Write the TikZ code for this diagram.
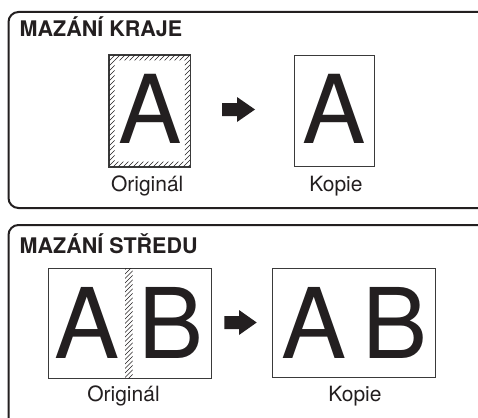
\documentclass[tikz,border=0pt]{standalone}
\usepackage{fontspec}
\setmainfont{TeX Gyre Heros}
\definecolor{ink}{HTML}{231F20}
\definecolor{frame}{HTML}{3A3A3A}
\tikzset{
  panel/.style={draw=ink, line width=2pt, rounded corners=10pt},
  pagebox/.style={draw=frame, line width=0.9pt, inner sep=0pt, fill=white},
  bigA/.style={anchor=base, inner sep=0pt, text=ink, font=\fontsize{95}{95}\selectfont},
  bigB/.style={anchor=base, inner sep=0pt, text=ink, font=\fontsize{97.5}{97.5}\selectfont},
  caption/.style={anchor=base, inner sep=0pt, text=ink, font=\fontsize{21}{24}\selectfont},
  heading/.style={anchor=base west, inner sep=0pt, text=ink, font=\fontsize{21.5}{24}\selectfont\bfseries},
  hatch/.style={draw=ink, line width=0.45pt},
  blockarrow/.style={fill=ink, draw=none}
}
\begin{document}
\begin{tikzpicture}[x=1pt,y=-1pt]
\useasboundingbox (0,0) rectangle (478,417);
\clip (0,0) rectangle (478,417);
\fill[white] (0,0) rectangle (478,417);

% ---------- panel 1 ----------
\draw[panel] (490,12) -- (8.5,12) -- (8.5,208) -- (490,208);
\node[heading] (t1) at (19.5,37) {MAZÁNÍ KRAJE};

\node[pagebox, minimum width=80.7pt, minimum height=111.7pt] (o1) at (149.65,110.85) {};
\begin{scope}[even odd rule]
  \clip (109.3,55) rectangle (190,166.7) (114.5,60.5) rectangle (184.8,161.5);
  \foreach \k in {-12,-7,...,192} { \draw[hatch] (\k,172) -- ++(124,-124); }
\end{scope}
\draw[frame, line width=0.9pt] (o1.north west) rectangle (o1.south east);
\node[bigA] (a1) at (150,143.3) {A};
\node[caption] (l1) at (147.2,191) {Originál};

\fill[blockarrow] (222,103) -- (237,103) -- (237,97) -- (255,109.5) -- (237,122) -- (237,116) -- (222,116) -- cycle;

\node[pagebox, minimum width=80pt, minimum height=111.7pt] (c1) at (334,110.85) {};
\node[bigA] (a1c) at (333.7,143.3) {A};
\node[caption] (k1) at (336,191) {Kopie};

% ---------- panel 2 ----------
\draw[panel] (490,225) -- (8.5,225) -- (8.5,430);
\node[heading] (t2) at (19.5,253) {MAZÁNÍ STŘEDU};

\node[pagebox, minimum width=163.4pt, minimum height=109.7pt] (o2) at (130,323.15) {};
\begin{scope}
  \clip (125,268.3) rectangle (132.7,378);
  \foreach \k in {6,10.5,...,134} { \draw[hatch] (\k,384) -- ++(124,-124); }
\end{scope}
\node[bigB] (a2) at (87.2,358.3) {A};
\node[bigB] (b2) at (171,358.3) {B};
\node[caption] (l2) at (123.5,401) {Originál};

\fill[blockarrow] (224.3,316) -- (239,316) -- (239,310) -- (256.7,322.5) -- (239,335) -- (239,329) -- (224.3,329) -- cycle;

\node[pagebox, minimum width=162.3pt, minimum height=109.2pt] (c2) at (353.85,322.9) {};
\node[bigB] (a2c) at (313.9,358.3) {A};
\node[bigB] (b2c) at (395,358.3) {B};
\node[caption] (k2) at (355,401) {Kopie};
\end{tikzpicture}
\end{document}
